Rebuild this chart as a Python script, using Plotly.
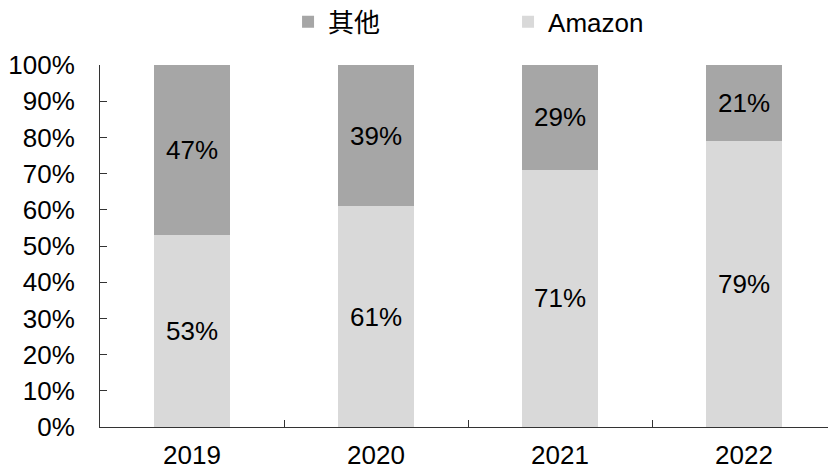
import plotly.graph_objects as go

years = ["2019", "2020", "2021", "2022"]
amazon = [53, 61, 71, 79]
others = [47, 39, 29, 21]
y_ticks = [0, 10, 20, 30, 40, 50, 60, 70, 80, 90, 100]
y_tick_labels = [f"{v}%" for v in y_ticks]

FONT = "Liberation Sans, Arial, Noto Sans CJK SC, sans-serif"

fig = go.Figure()
fig.add_trace(go.Bar(
    x=years, y=amazon, name="Amazon", marker=dict(color="#d9d9d9", line=dict(width=0)),
    text=[f"{v}%" for v in amazon], textposition="inside", insidetextanchor="middle",
    textfont=dict(color="black", size=26, family=FONT), width=0.41,
))
fig.add_trace(go.Bar(
    x=years, y=others, name="其他", marker=dict(color="#a6a6a6", line=dict(width=0)),
    text=[f"{v}%" for v in others], textposition="inside", insidetextanchor="middle",
    textfont=dict(color="black", size=26, family=FONT), width=0.41,
))

# The page body has an 8px margin, so the figure is sized/offset to fit the 836x469 window
fig.update_layout(
    barmode="stack",
    width=828, height=461,
    margin=dict(l=92, r=0, t=57, b=42, autoexpand=False),
    paper_bgcolor="white", plot_bgcolor="white",
    font=dict(family=FONT, size=26, color="black"),
    legend=dict(
        orientation="h", traceorder="reversed",
        x=0.2555, xanchor="left", xref="paper",
        y=1.119, yanchor="middle", yref="paper",
        entrywidth=175, entrywidthmode="pixels",
        itemwidth=30,
        font=dict(size=26, family=FONT),
        bgcolor="rgba(0,0,0,0)",
    ),
    xaxis=dict(
        type="category", range=[-0.5, 3.5], automargin=False,
        showline=True, linecolor="#333", linewidth=1,
        ticks="inside", tickson="boundaries", ticklen=7, tickcolor="#333",
        showgrid=False, tickfont=dict(size=26), ticklabelstandoff=5,
    ),
    yaxis=dict(
        range=[0, 100], tickvals=y_ticks, ticktext=y_tick_labels, automargin=False,
        showline=True, linecolor="#333", linewidth=1,
        ticks="inside", ticklen=7, tickcolor="#333",
        showgrid=False, zeroline=False, tickfont=dict(size=26),
        ticklabelstandoff=19,
    ),
)

fig.write_html("out.html")
